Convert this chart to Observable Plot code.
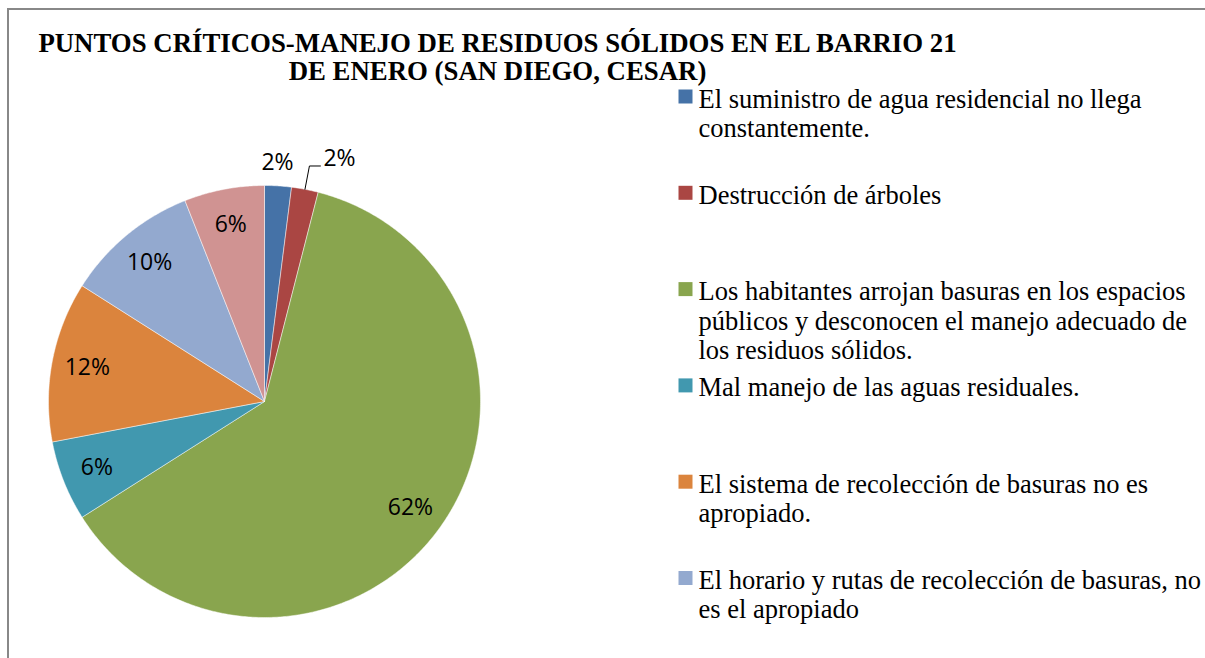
<!DOCTYPE html>
<html>
<head>
<meta charset="utf-8">
<script src="https://cdn.jsdelivr.net/npm/d3@7"></script>
<script src="https://cdn.jsdelivr.net/npm/@observablehq/plot@0.6"></script>
<style>
  html, body { margin: 0; padding: 0; background: #fff; }
  #wrap { position: relative; width: 1205px; height: 658px; overflow: hidden; }
  #frame { position: absolute; left: 7px; top: 8px; width: 1210px; height: 660px;
           border-left: 2px solid #888; border-top: 2px solid #888; box-sizing: border-box; pointer-events: none; }
  #chart { position: absolute; left: 0; top: 0; }
</style>
</head>
<body>
<div id="wrap"><div id="chart"></div><div id="frame"></div></div>
<script>
// ---- data ----
const titleLines = ["PUNTOS CRÍTICOS-MANEJO DE RESIDUOS SÓLIDOS EN EL BARRIO 21", "DE ENERO (SAN DIEGO, CESAR)"];
const values = [2, 2, 62, 6, 12, 10, 6];
const colors = ["#4572A7", "#AA4643", "#89A54E", "#4198AF", "#DB843D", "#93A9CF", "#D09392"];
const legendLabels = [
  "El suministro de agua residencial no llega\nconstantemente.",
  "Destrucción de árboles",
  "Los habitantes arrojan basuras en los espacios\npúblicos y desconocen el manejo adecuado de\nlos residuos sólidos.",
  "Mal manejo de las aguas residuales.",
  "El sistema de recolección de basuras no es\napropiado.",
  "El horario y rutas de recolección de basuras, no\nes el apropiado"
];

// ---- layout ----
const W = 1205, H = 658;
const cx = 264, cy = 401, R = 216;
const pt = (a, r) => ({x: cx + r * Math.sin(a), y: cy - r * Math.cos(a)});

const arcs = d3.pie().sort(null).value(d => d)(values);

const sliceMarks = arcs.map((a, i) => {
  const pts = [pt(0, 0)];
  const n = Math.max(2, Math.ceil((a.endAngle - a.startAngle) / (Math.PI / 360)));
  for (let k = 0; k <= n; k++) pts.push(pt(a.startAngle + (a.endAngle - a.startAngle) * k / n, R));
  pts.push(pt(0, 0));
  return Plot.line(pts, {x: "x", y: "y", fill: colors[i], stroke: "#fff", strokeWidth: 0.6, strokeOpacity: 0.8});
});

// labels
const labelsIn = [], labelsOutMid = [], labelsOutLeft = [], leaders = [];
let prevSmall = false;
arcs.forEach((a, i) => {
  const mid = (a.startAngle + a.endAngle) / 2;
  const txt = a.data + "%";
  if (a.data < 3) {
    if (!prevSmall) {
      const p = pt(mid, R * 1.107);
      labelsOutMid.push({x: p.x - 2, y: p.y, txt});
    } else {
      const s = pt(mid, R), e = pt(mid, R * 1.11);
      leaders.push({...s, k: i}, {...e, k: i}, {x: e.x + 11, y: e.y, k: i});
      labelsOutLeft.push({x: e.x + 14, y: e.y - 7, txt});
    }
    prevSmall = true;
  } else {
    labelsIn.push({...pt(mid, R * 0.835), txt});
    prevSmall = false;
  }
});

const legend = legendLabels.map((t, i) => ({t, base: 105 + i * 96.3, color: colors[i]}));

const LFONT = 26.5, PFONT = 23, TFONT = 26.8;
const chart = Plot.plot({
  width: W, height: H,
  margin: 0,
  x: {domain: [0, W], range: [0, W], axis: null},
  y: {domain: [0, H], range: [0, H], axis: null},
  style: {background: "transparent"},
  marks: [
    ...sliceMarks,
    Plot.text(labelsIn, {x: "x", y: "y", text: "txt", fontFamily: "Open Sans", fontSize: PFONT, fill: "#000", textAnchor: "middle", lineAnchor: "middle"}),
    Plot.text(labelsOutMid, {x: "x", y: "y", text: "txt", fontFamily: "Open Sans", fontSize: PFONT, fill: "#000", textAnchor: "middle", lineAnchor: "middle"}),
    Plot.text(labelsOutLeft, {x: "x", y: "y", text: "txt", fontFamily: "Open Sans", fontSize: PFONT, fill: "#000", textAnchor: "start", lineAnchor: "middle"}),
    Plot.line(leaders, {x: "x", y: "y", z: "k", stroke: "#000", strokeWidth: 1}),
    Plot.text([titleLines.join("\n")], {x: 497, y: 50 - 0.71 * TFONT, text: d => d, fontFamily: "Liberation Serif", fontWeight: "bold", fontSize: TFONT, lineHeight: 1.06, textAnchor: "middle", lineAnchor: "top", fill: "#000"}),
    Plot.dot(legend, {x: 685, y: d => d.base - 9, symbol: "square", r: 7.9, fill: "color", stroke: null}),
    Plot.text(legend, {x: 698, y: d => d.base - 0.71 * LFONT, text: "t", fontFamily: "Liberation Serif", fontSize: LFONT, lineHeight: 1.11, textAnchor: "start", lineAnchor: "top", fill: "#000"})
  ]
});
document.getElementById("chart").appendChild(chart);
</script>
</body>
</html>
